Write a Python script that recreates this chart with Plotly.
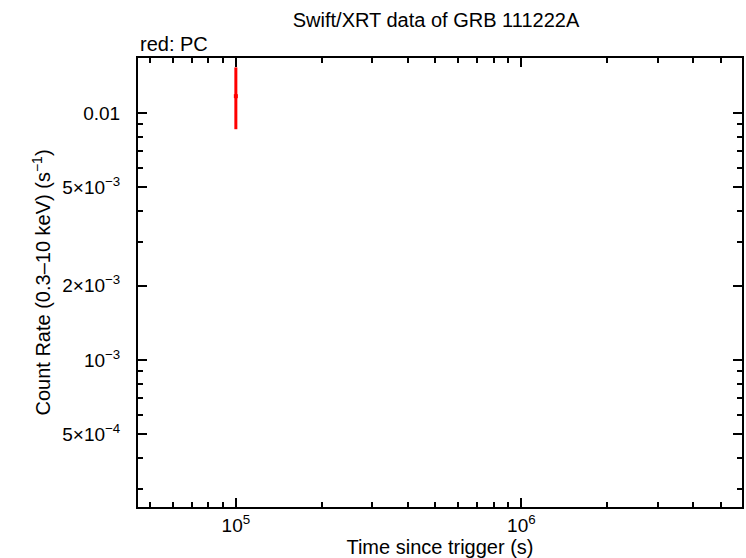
import plotly.graph_objects as go

# data
time_s = [1.0e5]
rate = [0.0117]
rate_err_plus = [0.0036]
rate_err_minus = [0.0031]

# axis ticks
x_major = [1e5, 1e6]
x_major_text = ["10<sup>5</sup>", "10<sup>6</sup>"]
x_minor = [5e4, 6e4, 7e4, 8e4, 9e4, 2e5, 3e5, 4e5, 5e5, 6e5, 7e5, 8e5, 9e5,
           2e6, 3e6, 4e6, 5e6]
y_major = [0.01, 5e-3, 2e-3, 1e-3, 5e-4]
y_major_text = ["0.01", "5×10<sup>−3</sup>", "2×10<sup>−3</sup>", "10<sup>−3</sup>",
                "5×10<sup>−4</sup>"]
y_minor = [3e-4, 4e-4, 6e-4, 7e-4, 8e-4, 9e-4, 3e-3, 4e-3, 6e-3, 7e-3, 8e-3, 9e-3]

x_range_log = [4.6573, 6.7727]
y_range_log = [-3.5945, -1.7773]

FONT = "Liberation Sans, Arial, sans-serif"

W, H = 746, 558

fig = go.Figure()
fig.add_trace(go.Scatter(
    x=time_s, y=rate, mode="markers",
    marker=dict(color="red", size=4, symbol="square"),
    error_y=dict(type="data", symmetric=False, array=rate_err_plus,
                 arrayminus=rate_err_minus, color="red", thickness=3, width=0),
    showlegend=False,
))

axis_common = dict(
    type="log", showgrid=False, zeroline=False, automargin=False,
    showline=True, linecolor="black", linewidth=2, mirror="ticks",
    ticks="inside", ticklen=9, tickwidth=2, tickcolor="black",
    tickfont=dict(family=FONT, size=19, color="black"),
)

fig.update_layout(
    width=W, height=H,
    paper_bgcolor="white", plot_bgcolor="white",
    margin=dict(l=138, r=4, t=58, b=51),
    title=dict(text="Swift/XRT data of GRB 111222A", x=436 / W, xanchor="center",
               y=1 - 20 / H, yanchor="middle",
               font=dict(family=FONT, size=20, color="black")),
    xaxis=dict(**axis_common, range=x_range_log, tickmode="array",
               tickvals=x_major, ticktext=x_major_text, ticklabelstandoff=0,
               minor=dict(tickvals=x_minor, ticks="inside", ticklen=5,
                          tickwidth=2, tickcolor="black"),
               title=dict(text="Time since trigger (s)", standoff=4,
                          font=dict(family=FONT, size=20, color="black"))),
    yaxis=dict(**axis_common, range=y_range_log, tickmode="array",
               tickvals=y_major, ticktext=y_major_text, ticklabelstandoff=12,
               minor=dict(tickvals=y_minor, ticks="inside", ticklen=5,
                          tickwidth=2, tickcolor="black"),
               title=dict(text="Count Rate (0.3–10 keV) (s<sup>−1</sup>)", standoff=6,
                          font=dict(family=FONT, size=20, color="black"))),
    annotations=[dict(text="red: PC", xref="paper", yref="paper", x=0, y=1,
                      xanchor="left", yanchor="bottom", yshift=1, showarrow=False,
                      font=dict(family=FONT, size=20, color="black"))],
)

fig.write_html(
    "out.html",
    config={"responsive": False, "displayModeBar": False},
    post_script="document.body.style.margin='0';document.body.style.overflow='hidden';",
)
